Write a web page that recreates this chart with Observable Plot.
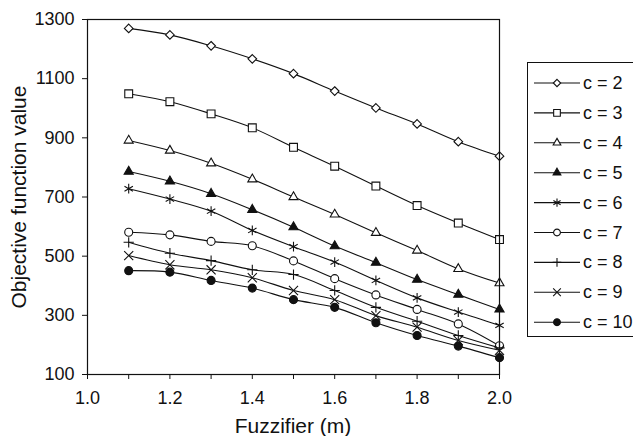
<!DOCTYPE html>
<html><head><meta charset="utf-8">
<script src="https://cdn.jsdelivr.net/npm/d3@7"></script>
<script src="https://cdn.jsdelivr.net/npm/@observablehq/plot@0.6"></script>
<style>body{margin:0;background:#fff;} svg{display:block}</style>
</head><body><div id="chart"></div>
<script>
const fuzzifier = [1.1, 1.2, 1.3, 1.4, 1.5, 1.6, 1.7, 1.8, 1.9, 2.0];
const c2  = [1270, 1248, 1211, 1167, 1117, 1058, 1001, 947, 887, 838];
const c3  = [1049, 1022, 981, 934, 868, 804, 737, 671, 612, 556];
const c4  = [891, 857, 814, 760, 700, 641, 579, 519, 457, 409];
const c5  = [786, 753, 711, 657, 598, 534, 478, 421, 370, 320];
const c6  = [728, 693, 652, 587, 532, 480, 418, 359, 311, 266];
const c7  = [581, 572, 550, 535, 484, 424, 369, 320, 271, 197];
const c8  = [547, 510, 485, 454, 438, 384, 327, 280, 232, 190];
const c9  = [502, 471, 454, 427, 384, 353, 299, 260, 215, 182];
const c10 = [451, 446, 418, 392, 353, 327, 275, 232, 196, 157];
const seriesNames = ["c = 2", "c = 3", "c = 4", "c = 5", "c = 6", "c = 7", "c = 8", "c = 9", "c = 10"];
const seriesValues = [c2, c3, c4, c5, c6, c7, c8, c9, c10];
const yTicks = [100, 300, 500, 700, 900, 1100, 1300];
const xMajorTicks = [1.0, 1.2, 1.4, 1.6, 1.8, 2.0];
const xMinorTicks = [1.1, 1.3, 1.5, 1.7, 1.9];
const xTitle = "Fuzzifier (m)";
const yTitle = "Objective function value";

const markerStyles = [
  {symbol: "diamond2", r: 3.9, fill: "white", d3sym: d3.symbolDiamond2},
  {symbol: "square2", r: 5.0, fill: "white", d3sym: d3.symbolSquare2},
  {symbol: "triangle2", r: 4.3, fill: "white", d3sym: d3.symbolTriangle2},
  {symbol: "triangle", r: 3.4, fill: "#111", d3sym: d3.symbolTriangle},
  {symbol: "asterisk", r: 4.6, fill: "none", d3sym: d3.symbolAsterisk},
  {symbol: "circle", r: 4.0, fill: "white", d3sym: d3.symbolCircle},
  {symbol: "plus", r: 3.4, fill: "none", d3sym: d3.symbolPlus},
  {symbol: "times", r: 4.2, fill: "none", d3sym: d3.symbolTimes},
  {symbol: "circle", r: 4.0, fill: "#111", d3sym: d3.symbolCircle}
];

const rows = seriesNames.flatMap((name, i) =>
  fuzzifier.map((m, j) => ({series: name, m, value: seriesValues[i][j]})));

const ink = "#111";
const lineMarks = seriesNames.map(name =>
  Plot.line(rows.filter(d => d.series === name), {
    x: "m", y: "value", curve: "catmull-rom", stroke: ink, strokeWidth: 1.1
  }));
const dotMarks = seriesNames.map((name, i) =>
  Plot.dot(rows.filter(d => d.series === name), {
    x: "m", y: "value", symbol: () => markerStyles[i].symbol, r: markerStyles[i].r,
    fill: markerStyles[i].fill, stroke: ink, strokeWidth: 1.1
  }));

const chart = Plot.plot({
  width: 633, height: 436,
  marginLeft: 87, marginRight: 134, marginTop: 19, marginBottom: 62,
  style: {fontFamily: "'Liberation Sans', Arial, sans-serif", color: ink, background: "white"},
  x: {domain: [1.0, 2.0]},
  y: {domain: [100, 1300]},
  symbol: {type: "identity"},
  marks: [
    Plot.axisY({ticks: yTicks, tickSize: 5, tickPadding: 8, fontSize: 18, tickFormat: d => String(d), label: null}),
    Plot.axisX({ticks: xMajorTicks, tickSize: 5, tickPadding: 12, fontSize: 18, tickFormat: d3.format(".1f"), label: null}),
    Plot.axisX({ticks: xMinorTicks, tickSize: 5, text: null, label: null}),
    ...lineMarks,
    ...dotMarks,
    Plot.frame({stroke: ink, strokeWidth: 1.2})
  ]
});

const svg = d3.select(chart);
svg.append("text")
  .attr("transform", "translate(26,197) rotate(-90)")
  .attr("text-anchor", "middle").attr("font-size", 21).attr("fill", ink)
  .text(yTitle);
svg.append("text")
  .attr("x", 293).attr("y", 433)
  .attr("text-anchor", "middle").attr("font-size", 21).attr("fill", ink)
  .text(xTitle);

const lg = svg.append("g");
lg.append("rect").attr("x", 527.5).attr("y", 62.5).attr("width", 110).attr("height", 274)
  .attr("fill", "white").attr("stroke", ink).attr("stroke-width", 1);
seriesNames.forEach((name, i) => {
  const y = 83 + i * 29.9;
  lg.append("line").attr("x1", 534).attr("x2", 580).attr("y1", y).attr("y2", y)
    .attr("stroke", ink).attr("stroke-width", 1.1);
  const ms = markerStyles[i];
  const rr = ms.r * 0.85;
  lg.append("path").attr("transform", `translate(557,${y})`)
    .attr("d", d3.symbol(ms.d3sym, rr * rr * Math.PI)())
    .attr("fill", ms.fill).attr("stroke", ink).attr("stroke-width", 1.1);
  lg.append("text").attr("x", 583).attr("y", y + 6)
    .attr("text-anchor", "start")
    .attr("font-size", 18).attr("fill", ink).text(name);
});

document.getElementById("chart").appendChild(chart);
</script>
</body></html>
